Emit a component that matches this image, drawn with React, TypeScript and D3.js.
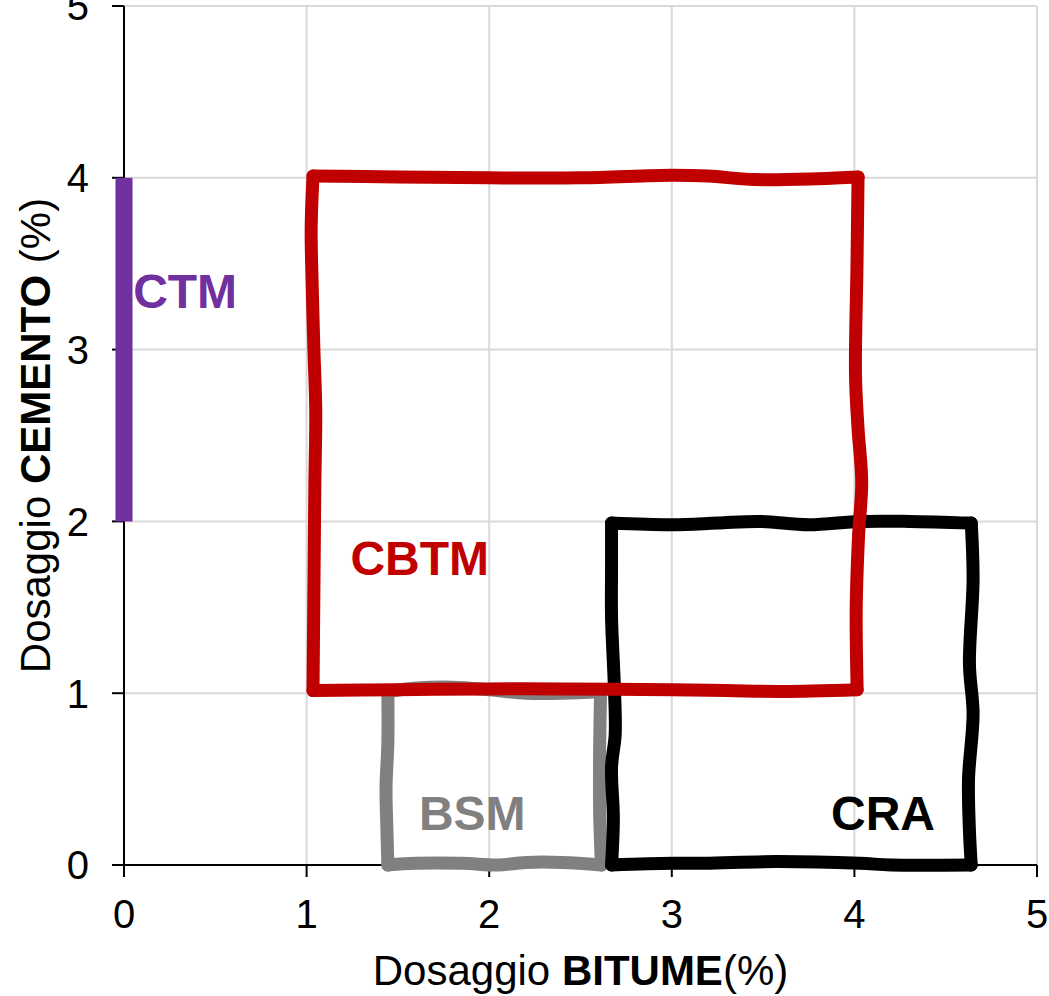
import React from "react";
import * as d3 from "d3";

// Axis ticks
const xTicks = [0, 1, 2, 3, 4, 5];
const yTicks = [0, 1, 2, 3, 4, 5];

// CTM: vertical segment at bitumen 0, cement 2..4
const ctmLine: [number, number][] = [[0, 2], [0, 4]];

// CBTM (red) hand-drawn rectangle, sides
const cbtmTop: [number, number][] = [[1.035, 4.01], [1.5, 4.005], [2.0, 4.0], [2.5, 4.0], [3.0, 4.015], [3.2, 4.01], [3.45, 3.99], [3.8, 3.995], [4.02, 4.005]];
const cbtmRight: [number, number][] = [[4.02, 4.005], [4.014, 3.48], [4.006, 2.85], [4.02, 2.54], [4.04, 2.23], [4.023, 1.92], [4.01, 1.5], [4.015, 1.02]];
const cbtmBottom: [number, number][] = [[4.015, 1.02], [3.6, 1.01], [3.3, 1.015], [3.0, 1.02], [2.4, 1.025], [2.0, 1.025], [1.5, 1.02], [1.035, 1.015]];
const cbtmLeft: [number, number][] = [[1.035, 1.015], [1.04, 1.6], [1.045, 2.2], [1.05, 2.65], [1.04, 3.0], [1.03, 3.4], [1.025, 3.7], [1.035, 4.01]];

// CRA (black)
const craTop: [number, number][] = [[2.67, 1.99], [3.0, 1.98], [3.25, 1.99], [3.48, 2.0], [3.75, 1.98], [4.03, 2.0], [4.3, 2.0], [4.64, 1.99]];
const craRight: [number, number][] = [[4.64, 1.99], [4.65, 1.66], [4.63, 1.17], [4.65, 0.88], [4.625, 0.5], [4.63, 0.2], [4.64, 0.0]];
const craBottom: [number, number][] = [[4.64, 0.0], [4.2, 0.0], [4.03, 0.01], [3.57, 0.02], [3.18, 0.01], [3.0, 0.01], [2.67, 0.0]];
const craLeft: [number, number][] = [[2.67, 0.0], [2.68, 0.27], [2.67, 0.57], [2.69, 0.76], [2.685, 1.05], [2.67, 1.44], [2.67, 1.73], [2.67, 1.99]];

// BSM (gray)
const bsmTop: [number, number][] = [[1.445, 1.01], [1.6, 1.03], [1.8, 1.035], [2.0, 1.02], [2.2, 1.0], [2.4, 1.0], [2.61, 1.01]];
const bsmRight: [number, number][] = [[2.61, 1.01], [2.605, 0.7], [2.605, 0.3], [2.615, 0.0]];
const bsmBottom: [number, number][] = [[2.615, 0.0], [2.4, 0.015], [2.2, 0.015], [2.05, 0.0], [1.85, 0.01], [1.6, 0.01], [1.445, 0.0]];
const bsmLeft: [number, number][] = [[1.445, 0.0], [1.44, 0.2], [1.435, 0.45], [1.445, 0.71], [1.445, 1.01]];

// Region labels (text, anchor point in data units)
const labelNames = ["CTM", "CBTM", "BSM", "CRA"];
const labelX = [0.05, 1.24, 1.615, 3.872];
const labelY = [3.245, 1.69, 0.204, 0.204];

const W = 1049;
const H = 996;
const FONT = "'Liberation Sans', Arial, Helvetica, sans-serif";

export default function App() {
  const x = d3.scaleLinear().domain([0, 5]).range([124, 1037]);
  const y = d3.scaleLinear().domain([0, 5]).range([865, 6]);

  const sideLine = d3
    .line<[number, number]>()
    .x((d) => x(d[0]))
    .y((d) => y(d[1]))
    .curve(d3.curveCatmullRom.alpha(0.5));
  const straight = d3
    .line<[number, number]>()
    .x((d) => x(d[0]))
    .y((d) => y(d[1]));

  const shapes = [
    { sides: [bsmTop, bsmRight, bsmBottom, bsmLeft], color: "#808080" },
    { sides: [craTop, craRight, craBottom, craLeft], color: "#000000" },
    { sides: [cbtmTop, cbtmRight, cbtmBottom, cbtmLeft], color: "#C00000" },
  ];
  const labelColors = ["#7030A0", "#C00000", "#808080", "#000000"];

  return (
    <svg
      width={W}
      height={H}
      style={{ position: "absolute", left: 0, top: 0, background: "#fff" }}
      fontFamily={FONT}
    >
      <rect x={0} y={0} width={W} height={H} fill="#fff" />
      {/* gridlines */}
      {xTicks.filter((t) => t > 0).map((t) => (
        <line key={"gx" + t} x1={x(t)} x2={x(t)} y1={y(0)} y2={y(5)} stroke="#d9d9d9" strokeWidth={2} />
      ))}
      {yTicks.filter((t) => t > 0).map((t) => (
        <line key={"gy" + t} x1={x(0)} x2={x(5)} y1={y(t)} y2={y(t)} stroke="#d9d9d9" strokeWidth={2} />
      ))}
      {/* axes */}
      <line x1={x(0)} x2={x(0)} y1={y(0)} y2={y(5)} stroke="#000" strokeWidth={2} />
      <line x1={x(0) - 12} x2={x(5)} y1={y(0)} y2={y(0)} stroke="#000" strokeWidth={2} />
      {yTicks.map((t) => (
        <line key={"ty" + t} x1={x(0) - 12} x2={x(0)} y1={y(t)} y2={y(t)} stroke="#000" strokeWidth={2} />
      ))}
      {xTicks.map((t) => (
        <line key={"tx" + t} x1={x(t)} x2={x(t)} y1={y(0)} y2={y(0) + 12} stroke="#000" strokeWidth={2} />
      ))}
      {/* tick labels */}
      {yTicks.map((t) => (
        <text key={"ly" + t} x={89} y={y(t)} dy="0.36em" textAnchor="end" fontSize={40} fill="#000">
          {t}
        </text>
      ))}
      {xTicks.map((t) => (
        <text key={"lx" + t} x={x(t)} y={928} textAnchor="middle" fontSize={40} fill="#000">
          {t}
        </text>
      ))}
      {/* axis titles */}
      <text x={(x(0) + x(5)) / 2} y={985} textAnchor="middle" fontSize={42} fill="#000">
        <tspan>Dosaggio </tspan>
        <tspan fontWeight="bold">BITUME</tspan>
        <tspan>(%)</tspan>
      </text>
      <text
        transform={`translate(50,${(y(0) + y(5)) / 2}) rotate(-90)`}
        textAnchor="middle"
        fontSize={42}
        fill="#000"
      >
        <tspan>Dosaggio </tspan>
        <tspan fontWeight="bold">CEMENTO</tspan>
        <tspan> (%)</tspan>
      </text>
      {/* shapes */}
      {shapes.map((s, i) => (
        <g key={"s" + i}>
          {s.sides.map((side, j) => (
            <path
              key={j}
              d={sideLine(side) || ""}
              fill="none"
              stroke={s.color}
              strokeWidth={13}
              strokeLinecap="round"
              strokeLinejoin="round"
            />
          ))}
        </g>
      ))}
      <path d={straight(ctmLine) || ""} stroke="#7030A0" strokeWidth={17} fill="none" strokeLinecap="butt" />
      {/* labels */}
      {labelNames.map((n, i) => (
        <text
          key={n}
          x={x(labelX[i])}
          y={y(labelY[i])}
          fontSize={48}
          fontWeight="bold"
          fill={labelColors[i]}
        >
          {n}
        </text>
      ))}
    </svg>
  );
}
